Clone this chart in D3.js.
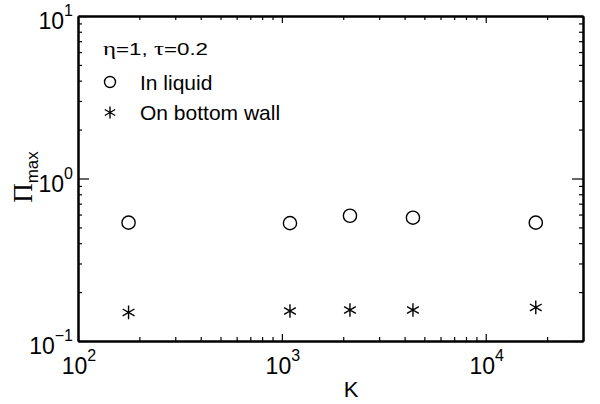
<!DOCTYPE html>
<html>
<head>
<meta charset="utf-8">
<script src="https://cdn.jsdelivr.net/npm/d3@7"></script>
<style>
  html, body { margin: 0; padding: 0; background: #fff; }
  svg { display: block; }
  text { font-family: "Liberation Sans", Arial, sans-serif; fill: #000; }
</style>
</head>
<body>
<svg id="chart" width="600" height="404"></svg>
<script>
// ---- data ----
const K = [177, 1096, 2158, 4395, 17600];
const inLiquid = [0.535, 0.531, 0.590, 0.574, 0.535];
const onBottomWall = [0.150, 0.153, 0.155, 0.155, 0.161];
const xTickExps = [2, 3, 4];
const yTickExps = [-1, 0, 1];
const xDomain = [100, 30000];
const yDomain = [0.1, 10];

const svg = d3.select("#chart");
const L = 78, R = 583, T = 16, B = 341;

const x = d3.scaleLog().domain(xDomain).range([L, R]);
const y = d3.scaleLog().domain(yDomain).range([B, T]);

const xMinor = x.ticks().filter(v => !xTickExps.some(e => Math.abs(v - Math.pow(10, e)) < 1e-9));
const yMinor = y.ticks().filter(v => !yTickExps.some(e => Math.abs(v - Math.pow(10, e)) < 1e-9));
const xMajor = xTickExps.map(e => Math.pow(10, e));
const yMajor = yTickExps.map(e => Math.pow(10, e));

function styleAxis(g, width) {
  g.selectAll(".domain").attr("stroke", "#000").attr("stroke-width", 2);
  g.selectAll(".tick line").attr("stroke", "#000").attr("stroke-width", 1.2);
  g.selectAll(".tick text").remove();
}

// bottom
svg.append("g").attr("transform", `translate(0,${B})`)
  .call(d3.axisBottom(x).tickValues(xMinor).tickSize(-4).tickSizeOuter(0).tickFormat(""))
  .call(styleAxis);
svg.append("g").attr("transform", `translate(0,${B})`)
  .call(d3.axisBottom(x).tickValues(xMajor).tickSize(-7).tickSizeOuter(0).tickFormat(""))
  .call(styleAxis);
// top
svg.append("g").attr("transform", `translate(0,${T})`)
  .call(d3.axisTop(x).tickValues(xMinor).tickSize(-4).tickSizeOuter(0).tickFormat(""))
  .call(styleAxis);
svg.append("g").attr("transform", `translate(0,${T})`)
  .call(d3.axisTop(x).tickValues(xMajor).tickSize(-7).tickSizeOuter(0).tickFormat(""))
  .call(styleAxis);
// left
svg.append("g").attr("transform", `translate(${L},0)`)
  .call(d3.axisLeft(y).tickValues(yMinor).tickSize(-4).tickSizeOuter(0).tickFormat(""))
  .call(styleAxis);
svg.append("g").attr("transform", `translate(${L},0)`)
  .call(d3.axisLeft(y).tickValues(yMajor).tickSize(-11).tickSizeOuter(0).tickFormat(""))
  .call(styleAxis);
// right
svg.append("g").attr("transform", `translate(${R},0)`)
  .call(d3.axisRight(y).tickValues(yMinor).tickSize(-4).tickSizeOuter(0).tickFormat(""))
  .call(styleAxis);
svg.append("g").attr("transform", `translate(${R},0)`)
  .call(d3.axisRight(y).tickValues(yMajor).tickSize(-11).tickSizeOuter(0).tickFormat(""))
  .call(styleAxis);

function supLabel(g, exp) {
  g.append("tspan").text("10").style("font-size", "23px");
  g.append("tspan").text(exp < 0 ? "\u2212" + Math.abs(exp) : String(exp))
    .attr("dy", -13).style("font-size", "16px");
}

// x tick labels
xTickExps.forEach(e => {
  const t = svg.append("text").attr("x", x(Math.pow(10, e)) + 1).attr("y", B + 33)
    .attr("text-anchor", "middle");
  supLabel(t, e);
});
// y tick labels
yTickExps.forEach(e => {
  const t = svg.append("text").attr("x", 73).attr("y", y(Math.pow(10, e)) + 13)
    .attr("text-anchor", "end");
  supLabel(t, e);
});

// axis titles
svg.append("text").attr("x", 351).attr("y", 397).attr("text-anchor", "middle")
  .style("font-size", "22px").text("K");

const yl = svg.append("text")
  .attr("transform", "translate(31.5,177) rotate(-90)")
  .attr("text-anchor", "middle");
yl.append("tspan").text("\u03A0").style("font-family", "'Liberation Serif', 'Times New Roman', serif")
  .style("font-size", "27px");
yl.append("tspan").text("max").attr("dy", 6).style("font-size", "17px");

// markers
function starPath(r) {
  const a = Math.PI / 6;
  const dx = r * Math.cos(a), dy = r * Math.sin(a);
  return `M0,${-r}L0,${r}M${-dx},${-dy}L${dx},${dy}M${-dx},${dy}L${dx},${-dy}`;
}

svg.append("g").selectAll("circle").data(K.map((k, i) => [k, inLiquid[i]]))
  .join("circle")
  .attr("cx", d => x(d[0])).attr("cy", d => y(d[1])).attr("r", 6.6)
  .attr("fill", "none").attr("stroke", "#000").attr("stroke-width", 1.4);

svg.append("g").selectAll("path").data(K.map((k, i) => [k, onBottomWall[i]]))
  .join("path")
  .attr("transform", d => `translate(${x(d[0])},${y(d[1])})`)
  .attr("d", starPath(6.8))
  .attr("fill", "none").attr("stroke", "#000").attr("stroke-width", 1.4);

// legend
const ann = svg.append("text").attr("x", 103).attr("y", 55)
  .attr("textLength", 105).attr("lengthAdjust", "spacingAndGlyphs")
  .style("font-size", "17px");
ann.append("tspan").text("\u03B7").style("font-family", "'Liberation Serif', serif").style("font-size", "19px");
ann.append("tspan").text("=1, ");
ann.append("tspan").text("\u03C4").style("font-family", "'Liberation Serif', serif").style("font-size", "19px");
ann.append("tspan").text("=0.2");

svg.append("circle").attr("cx", 110).attr("cy", 82).attr("r", 5.5)
  .attr("fill", "none").attr("stroke", "#000").attr("stroke-width", 1.4);
svg.append("text").attr("x", 140).attr("y", 90).style("font-size", "21px").text("In liquid");

svg.append("path").attr("transform", "translate(110,112.5)").attr("d", starPath(6))
  .attr("fill", "none").attr("stroke", "#000").attr("stroke-width", 1.4);
svg.append("text").attr("x", 140).attr("y", 120).style("font-size", "21px").text("On bottom wall");
</script>
</body>
</html>
